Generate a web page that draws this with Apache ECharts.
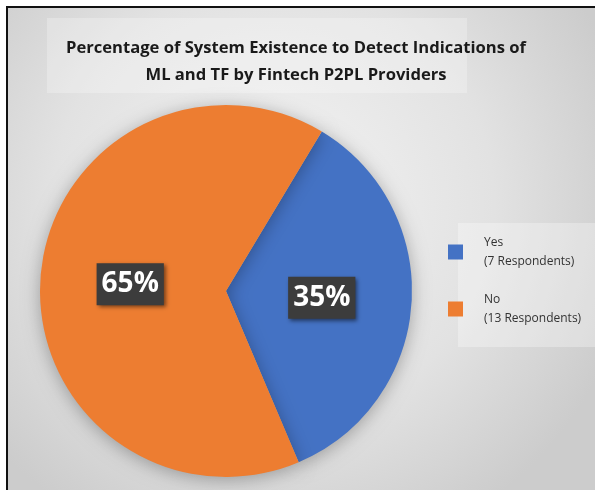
<!DOCTYPE html>
<html><head><meta charset="utf-8">
<script src="https://cdn.jsdelivr.net/npm/echarts@6/dist/echarts.min.js"></script>
<style>html,body{margin:0;padding:0;background:#fff}#c{width:595px;height:490px}</style>
</head><body><div id="c"></div>
<script>
const titleLines = ['Percentage of System Existence to Detect Indications of', 'ML and TF by Fintech P2PL Providers'];
const categories = ['Yes', 'No'];
const respondents = [7, 13];
const percents = [35, 65];
const colors = ['#4472C4', '#ED7D31'];

const chart = echarts.init(document.getElementById('c'), null, {renderer: 'canvas'});
const font = '"Open Sans", Lato, sans-serif';
chart.setOption({
  animation: false,
  graphic: [
    {type: 'rect', shape: {x: 0, y: 0, width: 595, height: 490}, style: {fill: '#ffffff'}, z: -10},
    {type: 'rect', shape: {x: 8, y: 8, width: 590, height: 490},
      style: {fill: new echarts.graphic.RadialGradient(0.45, 0.4, 0.75, [
        {offset: 0, color: '#f4f4f4'}, {offset: 0.6, color: '#e2e2e2'}, {offset: 1, color: '#cccccc'}])}, z: -9},
    {type: 'rect', shape: {x: 7, y: 6, width: 590, height: 2}, style: {fill: '#111'}, z: -8},
    {type: 'rect', shape: {x: 6, y: 6, width: 2, height: 490}, style: {fill: '#111'}, z: -8},
    {type: 'rect', shape: {x: 47, y: 18, width: 420, height: 75}, style: {fill: 'rgba(255,255,255,0.25)'}, z: -7},
    {type: 'rect', shape: {x: 458, y: 223, width: 140, height: 124}, style: {fill: 'rgba(255,255,255,0.3)'}, z: -7}
  ],
  title: {
    text: titleLines.join('\n'),
    left: 291, top: 30, textAlign: 'center',
    textStyle: {fontFamily: font, fontWeight: 'bold', fontSize: 16.6, lineHeight: 27, color: '#1a1a1a'}
  },
  legend: {
    orient: 'vertical', left: 443, top: 228,
    itemWidth: 15, itemHeight: 15, itemGap: 19, icon: 'rect',
    data: categories,
    formatter: function (name) {
      const i = categories.indexOf(name);
      return name + '\n(' + respondents[i] + ' Respondents)';
    },
    textStyle: {fontFamily: font, fontSize: 12, lineHeight: 19, color: '#333', padding: [0, 0, 0, 16]}
  },
  series: [{
    type: 'pie',
    center: [226, 291], radius: [0, 186],
    startAngle: 59, clockwise: true,
    data: categories.map((c, i) => ({name: c, value: percents[i], itemStyle: {color: colors[i]}})),
    itemStyle: {shadowBlur: 18, shadowColor: 'rgba(0,0,0,0.3)', shadowOffsetY: 3},
    label: {
      position: 'inside',
      formatter: p => p.value + '%',
      fontFamily: font, fontWeight: 'bold', fontSize: 28, color: '#ffffff',
      backgroundColor: '#3c3c3c', padding: [8, 5, 6, 5],
      shadowBlur: 4, shadowColor: 'rgba(0,0,0,0.5)', shadowOffsetX: 2, shadowOffsetY: 2
    },
    labelLine: {show: false},
    emphasis: {disabled: true}
  }]
});
</script></body></html>
